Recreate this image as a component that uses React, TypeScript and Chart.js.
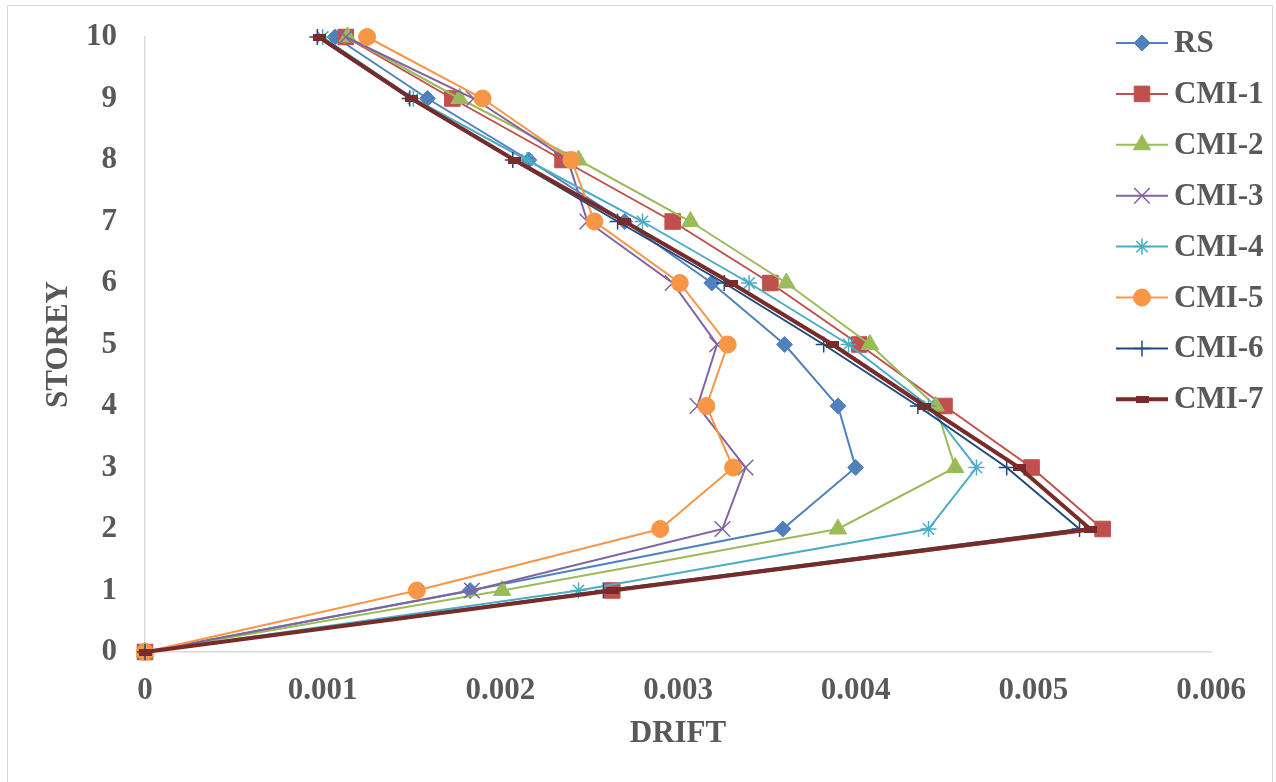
import React, { useEffect, useRef } from "react";
import { Chart, registerables } from "chart.js";
import { drawPoint } from "chart.js/helpers";

Chart.register(...registerables);

const storeys = [0, 1, 2, 3, 4, 5, 6, 7, 8, 9, 10];
const seriesNames = ["RS", "CMI-1", "CMI-2", "CMI-3", "CMI-4", "CMI-5", "CMI-6", "CMI-7"];

const rs = [0, 0.00183, 0.00359, 0.004, 0.0039, 0.0036, 0.00319, 0.0027, 0.00216, 0.00159, 0.00107];
const cmi1 = [0, 0.00263, 0.00539, 0.00499, 0.0045, 0.00402, 0.00352, 0.00297, 0.00235, 0.00173, 0.00113];
const cmi2 = [0, 0.00201, 0.0039, 0.00456, 0.00445, 0.00408, 0.00361, 0.00307, 0.00244, 0.00177, 0.00114];
const cmi3 = [0, 0.00184, 0.00325, 0.00338, 0.00311, 0.00322, 0.00297, 0.00249, 0.00238, 0.00185, 0.00113];
const cmi4 = [0, 0.00244, 0.00441, 0.00468, 0.00441, 0.00396, 0.0034, 0.0028, 0.00215, 0.00151, 0.001];
const cmi5 = [0, 0.00153, 0.0029, 0.00331, 0.00316, 0.00328, 0.00301, 0.00253, 0.0024, 0.0019, 0.00125];
const cmi6 = [0, 0.00258, 0.00526, 0.00485, 0.00435, 0.00382, 0.00326, 0.00266, 0.00207, 0.00149, 0.00097];
const cmi7 = [0, 0.00263, 0.00532, 0.00492, 0.00439, 0.00387, 0.0033, 0.0027, 0.00208, 0.0015, 0.00098];

const seriesValues = [rs, cmi1, cmi2, cmi3, cmi4, cmi5, cmi6, cmi7];
const colors = ["#4F81BD", "#C0504D", "#9BBB59", "#8064A2", "#4BACC6", "#F79646", "#1F497D", "#772C2A"];
const pointStyles: any[] = ["rectRot", "rect", "triangle", "crossRot", "star", "circle", "cross", "dash"];
const pointRadii = [8, 11, 10, 11, 8, 8.5, 8, 7];
const lineWidths = [2, 2, 2, 2, 2, 2, 2, 4];
const pointBorderWidths = [1, 1, 1, 1.5, 1.5, 1, 1.5, 0];

const xTicksMax = 0.006;
const xStep = 0.001;
const yMax = 10;

const FONT_FAMILY = "'Liberation Serif', 'Times New Roman', serif";
const TEXT_COLOR = "#595959";

export default function App() {
  const ref = useRef<HTMLCanvasElement | null>(null);

  useEffect(() => {
    if (!ref.current) return;
    const dash = document.createElement("canvas");
    dash.width = 13;
    dash.height = 7;
    const dctx = dash.getContext("2d")!;
    dctx.fillStyle = colors[7];
    dctx.fillRect(0, 0, 13, 7);

    const styles = pointStyles.map((s) => (s === "dash" ? dash : s));

    const datasets = seriesNames.map((name, i) => ({
      label: name,
      data: storeys.map((s, j) => ({ x: seriesValues[i][j], y: s })),
      borderColor: colors[i],
      backgroundColor: colors[i],
      borderWidth: lineWidths[i],
      pointStyle: styles[i],
      pointRadius: pointRadii[i],
      pointBorderWidth: pointBorderWidths[i],
      pointBackgroundColor: colors[i],
      pointBorderColor: colors[i],
      tension: 0,
      clip: false as any,
      order: seriesNames.length - 1 - i,
    }));

    const borderPlugin = {
      id: "outerBorder",
      beforeDraw(chart: any) {
        const ctx = chart.ctx;
        ctx.save();
        ctx.strokeStyle = "#d9d9d9";
        ctx.lineWidth = 1;
        ctx.strokeRect(7.5, 5.5, 1265, 800);
        ctx.restore();
      },
    };

    const legendPlugin = {
      id: "customLegend",
      afterDraw(chart: any) {
        const ctx = chart.ctx;
        ctx.save();
        seriesNames.forEach((name, i) => {
          const y = 43 + i * 50.9;
          ctx.strokeStyle = colors[i];
          ctx.lineWidth = lineWidths[i];
          ctx.beginPath();
          ctx.moveTo(1116, y);
          ctx.lineTo(1168, y);
          ctx.stroke();
          ctx.fillStyle = colors[i];
          ctx.strokeStyle = colors[i];
          ctx.lineWidth = pointBorderWidths[i];
          drawPoint(ctx, { pointStyle: styles[i], radius: pointRadii[i], borderWidth: pointBorderWidths[i], rotation: 0 } as any, 1142, y);
          ctx.fillStyle = TEXT_COLOR;
          ctx.font = `bold 31px ${FONT_FAMILY}`;
          ctx.textAlign = "left";
          ctx.textBaseline = "middle";
          ctx.fillText(name, 1174, y + 1);
        });
        ctx.restore();
      },
    };

    const font = { family: FONT_FAMILY, size: 31, weight: "bold" as const };

    const chart = new Chart(ref.current, {
      type: "line",
      data: { datasets },
      plugins: [borderPlugin, legendPlugin],
      options: {
        responsive: false,
        animation: false,
        devicePixelRatio: 1,
        layout: { padding: { left: 0, top: 37, right: 65, bottom: 0 } },
        plugins: { legend: { display: false }, tooltip: { enabled: false } },
        scales: {
          x: {
            type: "linear",
            min: 0,
            max: xTicksMax,
            grid: { display: false, drawTicks: false },
            border: { display: true, color: "#d9d9d9", width: 1.5 },
            ticks: {
              stepSize: xStep,
              color: TEXT_COLOR,
              font,
              padding: 20,
              maxRotation: 0,
              callback: (v: any) => (Number(v) === 0 ? "0" : Number(v).toFixed(3)),
            },
            title: { display: true, text: "DRIFT", color: TEXT_COLOR, font, padding: { top: 0, bottom: 29 } },
            afterFit: (scale: any) => {
              scale.height = 130;
              scale.paddingLeft = 0;
              scale.paddingRight = 0;
            },
          },
          y: {
            type: "linear",
            min: 0,
            max: yMax,
            grid: { display: false, drawTicks: false },
            border: { display: true, color: "#d9d9d9", width: 1.5 },
            ticks: { stepSize: 1, color: TEXT_COLOR, font, padding: 28 },
            title: { display: true, text: "STOREY", color: TEXT_COLOR, font, padding: { top: 40, bottom: 0 } },
            afterFit: (scale: any) => {
              scale.width = 145;
              scale.paddingTop = 0;
              scale.paddingBottom = 0;
            },
          },
        },
      },
    });
    return () => chart.destroy();
  }, []);

  return (
    <div style={{ position: "absolute", left: 0, top: 0, width: 1276, height: 782, background: "#fff" }}>
      <canvas ref={ref} width={1276} height={782} style={{ display: "block", width: 1276, height: 782 }} />
    </div>
  );
}
